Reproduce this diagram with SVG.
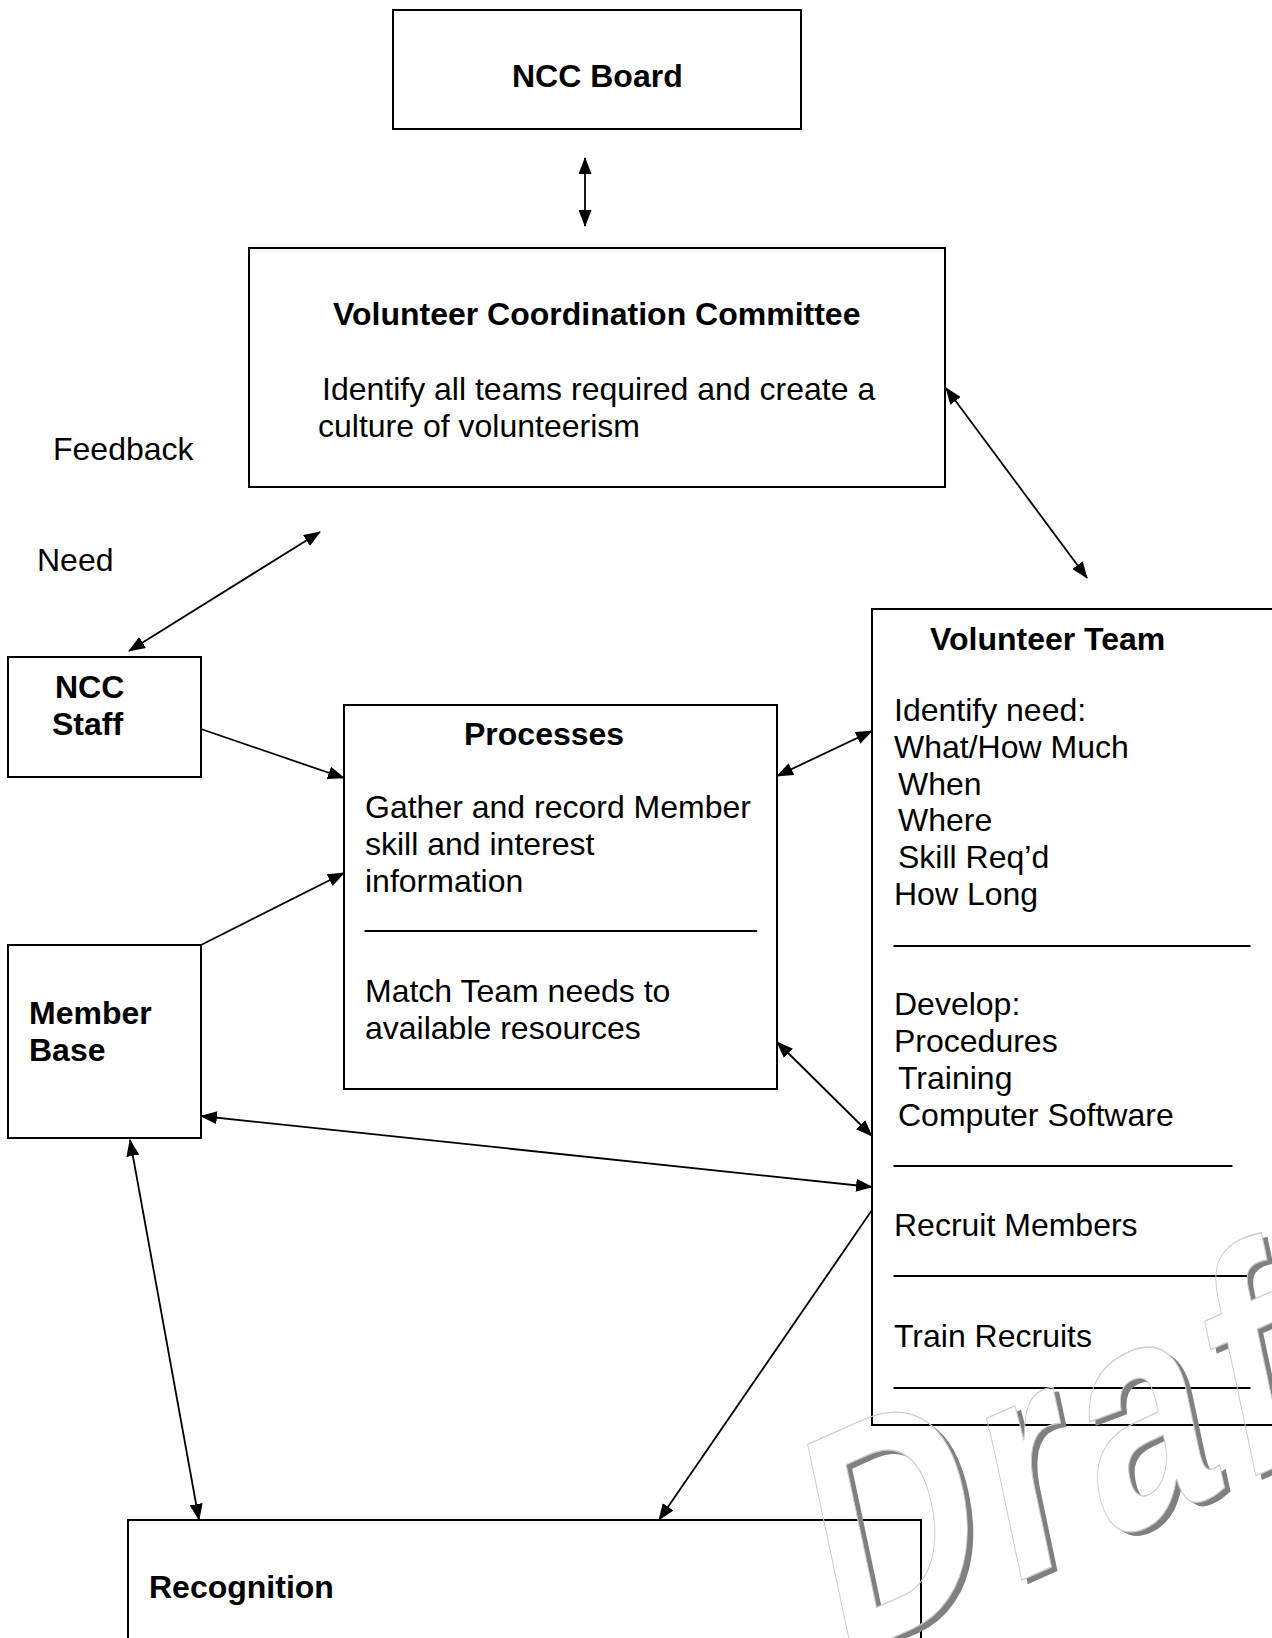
<svg xmlns="http://www.w3.org/2000/svg" width="1272" height="1638" viewBox="0 0 1272 1638">
<style>
  .box { fill: none; stroke: #000; stroke-width: 2; }
  .t { font-family: "Liberation Sans", Arial, sans-serif; font-size: 32px; fill: #000; }
  .b { font-weight: bold; }
  .c { fill: none; stroke: #000; stroke-width: 1.8; }
  .wm { font-family: "Liberation Sans", Arial, sans-serif; font-size: 330px; font-weight: bold; }
</style>
<defs>
  <marker id="ah" viewBox="0 0 17 13" refX="16" refY="6.5" markerWidth="17" markerHeight="13" markerUnits="userSpaceOnUse" orient="auto-start-reverse">
    <path d="M0,0 L17,6.5 L0,13 z" fill="#000"/>
  </marker>
  <mask id="wmMask" maskUnits="userSpaceOnUse" x="0" y="0" width="1272" height="1638">
    <rect x="0" y="0" width="1272" height="1638" fill="#fff"/>
    <g transform="translate(838,1662) rotate(-24) skewX(-12) scale(0.72,0.93)">
      <text class="wm" x="0" y="0" fill="#000" letter-spacing="18">Draft</text>
    </g>
  </mask>
</defs>
<rect x="0" y="0" width="1272" height="1638" fill="#fff"/>

<g id="ncc-board">
  <rect class="box" x="393" y="10" width="408" height="119"/>
  <text class="t b" x="512" y="87">NCC Board</text>
</g>

<g id="vcc">
  <rect class="box" x="249" y="248" width="696" height="239"/>
  <text class="t b" x="333" y="325">Volunteer Coordination Committee</text>
  <text class="t" x="322" y="400">Identify all teams required and create a</text>
  <text class="t" x="318" y="437">culture of volunteerism</text>
</g>

<g id="labels">
  <text class="t" x="53" y="460">Feedback</text>
  <text class="t" x="37" y="571">Need</text>
</g>

<g id="ncc-staff">
  <rect class="box" x="8" y="657" width="193" height="120"/>
  <text class="t b" x="55" y="698">NCC</text>
  <text class="t b" x="52" y="735">Staff</text>
</g>

<g id="processes">
  <rect class="box" x="344" y="705" width="433" height="384"/>
  <text class="t b" x="464" y="745">Processes</text>
  <text class="t" x="365" y="818">Gather and record Member
    <tspan x="365" dy="36.8">skill and interest</tspan>
    <tspan x="365" dy="36.8">information</tspan>
    <tspan x="365" dy="34.8">______________________</tspan>
    <tspan x="365" dy="75.6">Match Team needs to</tspan>
    <tspan x="365" dy="36.8">available resources</tspan>
  </text>
</g>

<g id="volunteer-team">
  <rect class="box" x="872" y="609" width="420" height="816"/>
  <text class="t b" x="930" y="650">Volunteer Team</text>
  <text class="t" x="894" y="721">Identify need:<tspan x="894" dy="36.8">What/How Much</tspan><tspan x="898" dy="36.8">When</tspan><tspan x="898" dy="36.8">Where</tspan><tspan x="898" dy="36.8">Skill Req’d</tspan><tspan x="894" dy="36.8">How Long</tspan><tspan x="894" dy="35.8">____________________</tspan><tspan x="894" dy="74.6">Develop:</tspan><tspan x="894" dy="36.8">Procedures</tspan><tspan x="898" dy="36.8">Training</tspan><tspan x="898" dy="36.8">Computer Software</tspan><tspan x="894" dy="34.8">___________________</tspan><tspan x="894" dy="75.6">Recruit Members</tspan><tspan x="894" dy="34.8">____________________</tspan><tspan x="894" dy="75.6">Train Recruits</tspan><tspan x="894" dy="36.8">____________________</tspan></text>
</g>

<g id="member-base">
  <rect class="box" x="8" y="945" width="193" height="193"/>
  <text class="t b" x="29" y="1024">Member</text>
  <text class="t b" x="29" y="1061">Base</text>
</g>

<g id="recognition">
  <rect class="box" x="128" y="1520" width="793" height="200"/>
  <text class="t b" x="149" y="1598">Recognition</text>
</g>

<g id="connectors">
  <line class="c" x1="585" y1="158" x2="585" y2="226" marker-start="url(#ah)" marker-end="url(#ah)"/>
  <line class="c" x1="320" y1="532" x2="129" y2="651" marker-start="url(#ah)" marker-end="url(#ah)"/>
  <line class="c" x1="946" y1="388" x2="1087" y2="578" marker-start="url(#ah)" marker-end="url(#ah)"/>
  <line class="c" x1="201" y1="729" x2="344" y2="778" marker-end="url(#ah)"/>
  <line class="c" x1="201" y1="945" x2="344" y2="873" marker-end="url(#ah)"/>
  <line class="c" x1="777" y1="776" x2="872" y2="731" marker-start="url(#ah)" marker-end="url(#ah)"/>
  <line class="c" x1="777" y1="1042" x2="872" y2="1136" marker-start="url(#ah)" marker-end="url(#ah)"/>
  <line class="c" x1="201" y1="1116" x2="872" y2="1187" marker-start="url(#ah)" marker-end="url(#ah)"/>
  <line class="c" x1="130" y1="1140" x2="199" y2="1520" marker-start="url(#ah)" marker-end="url(#ah)"/>
  <line class="c" x1="872" y1="1210" x2="659" y2="1520" marker-end="url(#ah)"/>
</g>

<g id="watermark">
  <g mask="url(#wmMask)">
    <g transform="translate(844,1666) rotate(-24) skewX(-12) scale(0.72,0.93)">
      <text class="wm" x="0" y="0" fill="#808080" letter-spacing="18">Draft</text>
    </g>
  </g>
  <g transform="translate(838,1662) rotate(-24) skewX(-12) scale(0.72,0.93)">
    <text class="wm" x="0" y="0" fill="none" stroke="#cccccc" stroke-width="1.2" vector-effect="non-scaling-stroke" letter-spacing="18">Draft</text>
  </g>
</g>
</svg>
